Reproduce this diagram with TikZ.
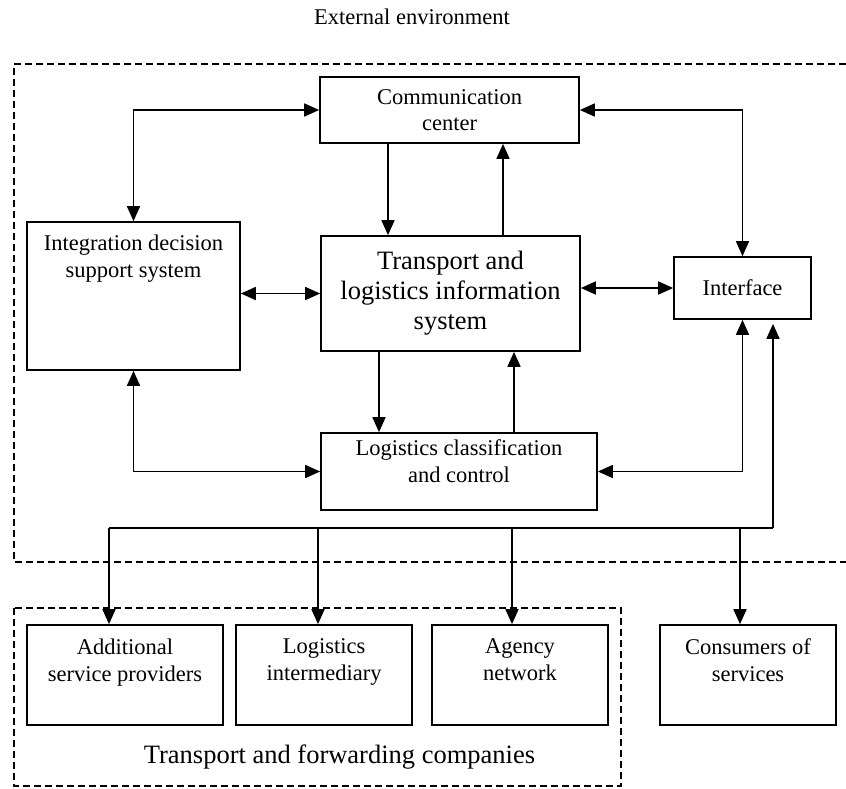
\documentclass[tikz,border=0pt]{standalone}
\usepackage{fontspec}
\setmainfont{Liberation Serif}
\usetikzlibrary{arrows.meta}
\begin{document}
\begin{tikzpicture}[x=1pt,y=-1pt,
  box/.style={draw, line width=1.7pt, inner sep=0pt},
  txt/.style={font=\fontsize{22.5}{26.5}\selectfont, align=center},
  bigtxt/.style={font=\fontsize{26.5}{30}\selectfont, align=center},
  toptext/.style={font=\fontsize{22.5}{26.5}\selectfont, align=center, inner sep=0pt, anchor=north},
  conn/.style={line width=1.7pt},
  arr/.style={conn, -{Triangle[length=15pt,width=13pt]}},
  darr/.style={conn, {Triangle[length=15pt,width=13pt]}-{Triangle[length=15pt,width=13pt]}},
  frame/.style={line width=1.3pt, dash pattern=on 7pt off 4pt}
]
\useasboundingbox (0,0) rectangle (846,788);

% environment frames
\node[txt] (extenv) at (412,17) {External environment};
\draw[frame] (846,64) -- (14,64) -- (14,562) -- (846,562);
\draw[frame] (14,608) rectangle (621,786);
\node[bigtxt] (tfc) at (339.5,757) {Transport and forwarding companies};

% central blocks
\node[box, txt, minimum width=259pt, minimum height=66pt] (comm) at (449.5,110) {Communication\\center};
\node[box, bigtxt, minimum width=259pt, minimum height=115pt] (trans) at (450.5,293.5) {Transport and\\logistics information\\system};
\node[box, minimum width=213pt, minimum height=148pt,
  label={[toptext, yshift=-13.6pt]north:Integration decision\\support system}] (integ) at (133.5,296) {};
\node[box, txt, minimum width=137pt, minimum height=62pt] (iface) at (742.5,288) {Interface};
\node[box, minimum width=276pt, minimum height=77pt,
  label={[toptext, yshift=-7.6pt]north:Logistics classification\\and control}] (logc) at (459,471.5) {};

% participants
\node[box, minimum width=196pt, minimum height=100pt,
  label={[toptext, yshift=-14.6pt]north:Additional\\service providers}] (add) at (125,675) {};
\node[box, minimum width=176pt, minimum height=100pt,
  label={[toptext, yshift=-14.6pt]north:Logistics\\intermediary}] (inter) at (324,675) {};
\node[box, minimum width=176pt, minimum height=100pt,
  label={[toptext, yshift=-14.6pt]north:Agency\\network}] (agency) at (520,675) {};
\node[box, minimum width=176pt, minimum height=100pt,
  label={[toptext, yshift=-14.6pt]north:Consumers of\\services}] (cons) at (748,675) {};

% helper coordinates for vertical links
\coordinate (xa) at (388,0);
\coordinate (xb) at (503,0);
\coordinate (xc) at (379,0);
\coordinate (xd) at (514,0);
\coordinate (busR) at (773,528);
\coordinate (d1) at (109,528);
\coordinate (d2) at (318,528);
\coordinate (d3) at (512,528);
\coordinate (d4) at (740,528);

% links around the information system
\draw[darr] (integ.north) |- (comm.west);
\draw[darr] (comm.east) -| (iface.north);
\draw[arr] (xa |- comm.south) -- (xa |- trans.north);
\draw[arr] (xb |- trans.north) -- (xb |- comm.south);
\draw[darr] (integ.east |- trans.west) -- (trans.west);
\draw[darr] (trans.east |- iface.west) -- (iface.west);
\draw[arr] (xc |- trans.south) -- (xc |- logc.north);
\draw[arr] (xd |- logc.north) -- (xd |- trans.south);
\draw[darr] (integ.south) |- (logc.west);
\draw[darr] (logc.east) -| (iface.south);

% distribution bus
\draw[arr, shorten >=4pt] (busR) -- (busR |- iface.south);
\draw[conn] (d1) -- (busR);
\draw[arr] (d1) -- (d1 |- add.north);
\draw[arr] (d2) -- (d2 |- inter.north);
\draw[arr] (d3) -- (d3 |- agency.north);
\draw[arr] (d4) -- (d4 |- cons.north);
\end{tikzpicture}
\end{document}
